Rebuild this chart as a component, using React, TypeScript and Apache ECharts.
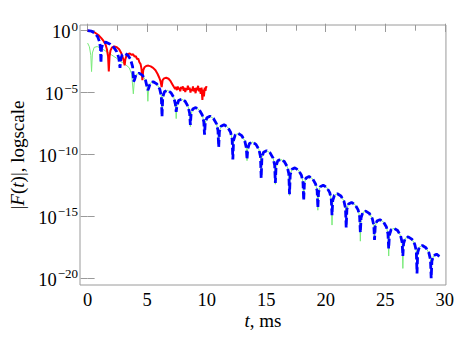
import React, { useEffect, useRef } from 'react';
import * as echarts from 'echarts';

// ---- ticks ----
const xMajorTicks = [0, 5, 10, 15, 20, 25, 30];
const xMinorTicks = [2.5, 7.5, 12.5, 17.5, 22.5, 27.5];
const yDecadeTicks = [-20, -15, -10, -5, 0]; // log10 values

// ---- data: [t (ms), log10 |F(t)|] ----
const redCurve: [number, number][] = [
  [0, 0], [0.3, -0.03], [0.6, -0.15], [0.9, -0.35], [1.15, -0.6], [1.35, -0.85], [1.5, -1.1], [1.62, -1.5],
  [1.72, -2.1], [1.78, -3.3], [1.84, -2.1], [1.92, -1.6], [2.05, -1.35], [2.25, -1.28], [2.45, -1.33],
  [2.65, -1.5], [2.82, -1.8], [2.95, -2.15], [3.05, -2.5], [3.11, -2.8], [3.17, -2.3], [3.27, -2.0],
  [3.4, -1.88], [3.55, -1.85], [3.7, -1.95], [3.82, -1.9], [3.95, -2.1], [4.05, -2.05], [4.15, -2.3],
  [4.25, -2.25], [4.35, -2.55], [4.45, -2.7], [4.53, -3.1], [4.6, -4.0], [4.67, -3.2], [4.78, -2.95],
  [4.92, -2.85], [5.1, -2.82], [5.3, -2.88], [5.5, -3.0], [5.7, -3.2], [5.88, -3.5], [6.02, -3.8],
  [6.13, -4.1], [6.22, -4.55], [6.3, -4.0], [6.42, -3.85], [6.6, -3.8], [6.8, -3.88], [6.95, -4.05],
  [7.1, -4.3], [7.25, -4.55], [7.35, -4.7], [7.42, -4.55], [7.5, -4.8], [7.57, -4.5], [7.64, -4.75],
  [7.7, -4.6], [7.78, -4.9], [7.85, -4.55], [7.92, -4.7], [8.0, -4.5], [8.07, -4.85], [8.14, -4.6],
  [8.2, -4.95], [8.28, -4.65], [8.35, -4.8], [8.42, -4.45], [8.5, -4.75], [8.57, -4.6], [8.64, -5.0],
  [8.7, -4.7], [8.78, -4.85], [8.85, -4.5], [8.92, -4.9], [9.0, -4.65], [9.07, -5.05], [9.14, -4.6],
  [9.2, -4.8], [9.28, -4.45], [9.35, -4.9], [9.42, -4.65], [9.5, -5.1], [9.57, -4.6], [9.64, -5.6],
  [9.7, -4.75], [9.77, -5.3], [9.84, -4.6], [9.9, -4.85], [9.96, -4.5], [10.0, -4.6],
];

const blueEarly: [number, number][] = [
  [0, 0], [0.3, -0.03], [0.6, -0.2], [0.85, -0.5], [1.0, -0.9], [1.08, -1.4], [1.12, -2.6],
  [1.17, -1.4], [1.3, -1.0], [1.55, -0.93], [1.9, -1.1], [2.2, -1.35], [2.45, -1.7], [2.62, -2.2],
  [2.72, -3.0], [2.78, -2.3], [2.9, -1.95], [3.15, -1.85], [3.4, -2.0], [3.6, -2.3], [3.78, -2.9],
];

const greenEarly: [number, number][] = [
  [0, -1.0], [0.15, -1.3], [0.27, -2.0], [0.33, -3.3], [0.4, -1.8], [0.55, -1.35], [0.8, -1.28],
  [1.2, -1.45], [1.6, -1.7], [2.0, -1.95], [2.4, -2.2], [2.8, -2.5], [3.2, -2.75], [3.5, -3.0],
  [3.7, -3.5],
];

// arches shared by the blue and green curves after t ≈ 3.9 ms (points between the zeros)
const archPoints: [number, number][] = [
  [3.93, -3.98], [4.07, -3.55], [4.32, -3.43], [4.62, -3.61], [4.87, -4.03], [5.0, -4.58],
  [5.12, -4.67], [5.26, -4.24], [5.51, -4.12], [5.81, -4.3], [6.06, -4.72], [6.19, -5.27],
  [6.31, -5.37], [6.45, -4.94], [6.7, -4.82], [7.0, -5.0], [7.25, -5.42], [7.38, -5.97],
  [7.5, -6.07], [7.64, -5.64], [7.89, -5.52], [8.19, -5.7], [8.44, -6.12], [8.57, -6.67],
  [8.69, -6.76], [8.83, -6.33], [9.08, -6.21], [9.38, -6.39], [9.63, -6.81], [9.76, -7.36],
  [9.88, -7.46], [10.02, -7.03], [10.27, -6.91], [10.57, -7.09], [10.82, -7.51], [10.95, -8.06],
  [11.07, -8.15], [11.21, -7.72], [11.46, -7.6], [11.76, -7.78], [12.01, -8.2], [12.14, -8.75],
  [12.26, -8.85], [12.4, -8.42], [12.65, -8.3], [12.95, -8.48], [13.2, -8.9], [13.33, -9.45],
  [13.45, -9.55], [13.59, -9.12], [13.84, -9.0], [14.14, -9.18], [14.39, -9.6], [14.52, -10.15],
  [14.64, -10.24], [14.78, -9.81], [15.03, -9.69], [15.33, -9.87], [15.58, -10.29], [15.71, -10.84],
  [15.83, -10.94], [15.97, -10.51], [16.22, -10.39], [16.52, -10.57], [16.77, -10.99], [16.9, -11.54],
  [17.02, -11.63], [17.16, -11.2], [17.41, -11.08], [17.71, -11.26], [17.96, -11.68], [18.09, -12.23],
  [18.21, -12.33], [18.35, -11.9], [18.6, -11.78], [18.9, -11.96], [19.15, -12.38], [19.28, -12.93],
  [19.4, -13.03], [19.54, -12.6], [19.79, -12.48], [20.09, -12.66], [20.34, -13.08], [20.47, -13.63],
  [20.59, -13.72], [20.73, -13.29], [20.98, -13.17], [21.28, -13.35], [21.53, -13.77], [21.66, -14.32],
  [21.78, -14.42], [21.92, -13.99], [22.17, -13.87], [22.47, -14.05], [22.72, -14.47], [22.85, -15.02],
  [22.97, -15.12], [23.11, -14.69], [23.36, -14.57], [23.66, -14.75], [23.91, -15.17], [24.04, -15.72],
  [24.16, -15.81], [24.3, -15.38], [24.55, -15.26], [24.85, -15.44], [25.1, -15.86], [25.23, -16.41],
  [25.35, -16.51], [25.49, -16.08], [25.74, -15.96], [26.04, -16.14], [26.29, -16.56], [26.42, -17.11],
  [26.54, -17.2], [26.68, -16.77], [26.93, -16.65], [27.23, -16.83], [27.48, -17.25], [27.61, -17.8],
  [27.73, -17.9], [27.87, -17.47], [28.12, -17.35], [28.42, -17.53], [28.67, -17.95], [28.8, -18.5],
  [28.92, -18.6], [29.06, -18.17], [29.31, -18.05], [29.55, -18.22],
];

// zeros (cusps) — depth differs slightly between the two sampled curves
const blueDips: [number, number][] = [
  [3.86, -4.1], [5.06, -4.8], [6.25, -6.95], [7.44, -6.55], [8.63, -7.6], [9.82, -8.4], [11.01, -9.4],
  [12.2, -10.4], [13.39, -10.4], [14.58, -11.9], [15.77, -12.3], [16.96, -13.2], [18.15, -13.7],
  [19.34, -14.3], [20.53, -14.9], [21.72, -15.9], [22.91, -16.3], [24.1, -16.9], [25.29, -17.6],
  [26.48, -18.2], [27.67, -19.6], [28.86, -20.0],
];
const greenDips: [number, number][] = [
  [3.84, -5.1], [5.06, -5.7], [6.25, -6.7], [7.44, -7.1], [8.63, -7.75], [9.82, -8.2], [11.01, -9.1],
  [12.2, -9.9], [13.39, -10.5], [14.58, -11.8], [15.77, -12.4], [16.96, -13.3], [18.15, -13.6],
  [19.34, -14.5], [20.53, -15.7], [21.72, -15.5], [22.91, -17.0], [24.1, -16.6], [25.29, -18.2],
  [26.48, -19.2], [27.67, -18.9], [28.86, -19.6],
];

const byT = (...parts: [number, number][][]) => parts.flat().sort((a, b) => a[0] - b[0]);

const FONT = '"Liberation Serif", "Times New Roman", serif';
const FRAME = '#9a9a9a';

export default function App() {
  const ref = useRef<HTMLDivElement>(null);
  useEffect(() => {
    if (!ref.current) return;
    const chart = echarts.init(ref.current, undefined, { renderer: 'svg' });
    const xBase = {
      type: 'value', min: -0.64, max: 30.1, gridIndex: 0,
      splitLine: { show: false }, axisLine: { show: false },
    };
    const yBase = {
      type: 'value', min: -20.54, max: 0.46, gridIndex: 0,
      splitLine: { show: false }, axisLine: { show: false },
    };
    const tick = (vals: number[], len: number) => ({
      show: true, inside: true, length: len, customValues: vals,
      lineStyle: { color: FRAME, width: 1 },
    });
    const labelRich = {
      b: { fontFamily: FONT, fontSize: 18.5, color: '#000', lineHeight: 22, verticalAlign: 'bottom' },
      s: { fontFamily: FONT, fontSize: 13, color: '#000', lineHeight: 13, verticalAlign: 'top', padding: [0, 0, 0, 1] },
    };
    const nameStyle = {
      fontFamily: FONT, fontSize: 19, color: '#000',
      rich: {
        r: { fontFamily: FONT, fontSize: 19, color: '#000' },
        i: { fontFamily: FONT, fontSize: 19, color: '#000', fontStyle: 'italic' },
      },
    };
    chart.setOption({
      animation: false,
      backgroundColor: '#fff',
      grid: { left: 77, top: 25, width: 371, height: 260, show: true, borderColor: FRAME, borderWidth: 1, containLabel: false },
      xAxis: [
        {
          ...xBase, position: 'bottom',
          axisTick: tick(xMajorTicks, 7),
          axisLabel: { show: true, customValues: xMajorTicks, margin: 5, fontFamily: FONT, fontSize: 18.5, color: '#000' },
          name: '{i|t}{r|, ms}', nameLocation: 'middle', nameGap: 26, nameMoveOverlap: false, nameTextStyle: nameStyle,
        },
        { ...xBase, position: 'bottom', axisTick: tick(xMinorTicks, 3.5), axisLabel: { show: false } },
        { ...xBase, position: 'top', axisTick: tick(xMajorTicks, 7), axisLabel: { show: false } },
        { ...xBase, position: 'top', axisTick: tick(xMinorTicks, 3.5), axisLabel: { show: false } },
      ],
      yAxis: [
        {
          ...yBase, position: 'left',
          axisTick: tick(yDecadeTicks, 7),
          axisLabel: {
            show: true, customValues: yDecadeTicks, margin: 2,
            formatter: (v: number) => `{b|10}{s|${v === 0 ? '0' : '\u2212' + Math.abs(v)}}`,
            rich: labelRich,
          },
          name: '{r||}{i|F}{r|(}{i|t}{r|)|, logscale}', nameLocation: 'middle', nameGap: 53, nameMoveOverlap: false, nameTextStyle: nameStyle,
        },
        { ...yBase, position: 'right', axisTick: tick(yDecadeTicks, 7), axisLabel: { show: false } },
      ],
      series: [
        {
          name: 'green', type: 'line', xAxisIndex: 0, yAxisIndex: 0, symbol: 'none', showSymbol: false,
          data: byT(greenEarly, archPoints, greenDips),
          lineStyle: { color: '#7aeb7a', width: 1 }, z: 2,
        },
        {
          name: 'red', type: 'line', xAxisIndex: 0, yAxisIndex: 0, symbol: 'none', showSymbol: false,
          data: redCurve,
          lineStyle: { color: '#ff0000', width: 2 }, z: 3,
        },
        {
          name: 'blue', type: 'line', xAxisIndex: 0, yAxisIndex: 0, symbol: 'none', showSymbol: false,
          data: byT(blueEarly, archPoints, blueDips),
          lineStyle: { color: '#0000ff', width: 2.8, type: [7, 3], cap: 'butt' }, z: 4,
        },
      ],
    });
    return () => chart.dispose();
  }, []);
  return <div ref={ref} style={{ position: 'absolute', left: 0, top: 0, width: 457, height: 338 }} />;
}
